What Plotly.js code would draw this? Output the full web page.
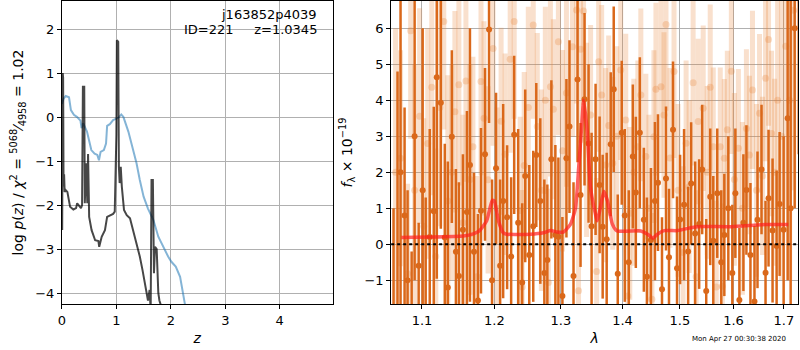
<!DOCTYPE html>
<html>
<head>
<meta charset="utf-8">
<script src="https://cdn.plot.ly/plotly-3.0.1.min.js"></script>
<style>html,body{margin:0;padding:0;background:#fff;}#chart{width:800px;height:350px;}</style>
</head>
<body>
<div id="chart"></div>
<script>
// ---- left panel: redshift probability ----
const blueZ = [0.0,0.03,0.07,0.13,0.165,0.22,0.28,0.34,0.36,0.39,0.46,0.54,0.6,0.65,0.68,0.71,0.77,0.81,0.83,0.88,0.94,0.99,1.04,1.09,1.13,1.22,1.31,1.37,1.43,1.5,1.58,1.68,1.77,1.86,1.95,2.01,2.09,2.17,2.26,2.35];
const blueLogP = [0.3,0.42,0.48,0.45,0.16,0.05,0.0,-0.08,-0.25,-0.14,-0.33,-0.75,-0.83,-0.86,-0.98,-0.79,-0.75,-0.6,-0.2,-0.16,-0.07,-0.03,-0.01,0.06,0.0,-0.33,-0.75,-1.05,-1.43,-1.81,-2.08,-2.34,-2.72,-2.95,-3.17,-3.29,-3.4,-3.63,-4.23,-4.9];

const blackZ = [0.005,0.015,0.022,0.03,0.04,0.05,0.07,0.1,0.15,0.21,0.26,0.28,0.32,0.35,0.37,0.385,0.41,0.42,0.446,0.466,0.48,0.5,0.545,0.61,0.67,0.685,0.73,0.79,0.83,0.88,0.94,0.97,1.0,1.009,1.034,1.046,1.06,1.08,1.1,1.14,1.19,1.25,1.31,1.37,1.43,1.48,1.52,1.55,1.58,1.61,1.63,1.645,1.67,1.69,1.71,1.74,1.75,1.77,1.79,1.81,1.85];
const blackLogP = [-2.57,1.0,0.9,-1.58,-1.3,-1.7,-1.66,-1.7,-2.04,-2.1,-2.07,-1.96,-2.04,-2.07,-2.0,0.69,0.69,-1.96,-1.05,-1.96,-0.84,-2.27,-2.57,-2.8,-2.82,-2.95,-2.72,-2.57,-2.27,-2.23,-2.2,-2.15,-0.4,1.75,1.71,-1.13,-1.5,-1.13,-1.58,-2.11,-2.23,-2.3,-2.57,-2.87,-3.17,-3.48,-3.78,-4.0,-4.17,-3.93,-4.4,-1.43,-1.43,-3.55,-2.95,-3.0,-3.55,-4.0,-4.17,-4.25,-4.6];

// ---- right panel: spectrum ----
const darkWave = [1.0630,1.0681,1.0720,1.0772,1.0811,1.0864,1.0903,1.0956,1.1009,1.1049,1.1103,1.1157,1.1197,1.1252,1.1306,1.1347,1.1402,1.1458,1.1499,1.1555,1.1611,1.1653,1.1710,1.1766,1.1809,1.1866,1.1924,1.1967,1.2025,1.2084,1.2128,1.2186,1.2245,1.2290,1.2349,1.2409,1.2454,1.2515,1.2575,1.2621,1.2682,1.2744,1.2790,1.2852,1.2914,1.2961,1.3024,1.3087,1.3135,1.3199,1.3263,1.3311,1.3375,1.3440,1.3489,1.3554,1.3620,1.3670,1.3736,1.3803,1.3853,1.3920,1.3987,1.4038,1.4106,1.4175,1.4226,1.4295,1.4364,1.4417,1.4487,1.4557,1.4610,1.4681,1.4752,1.4805,1.4877,1.4949,1.5004,1.5076,1.5150,1.5205,1.5278,1.5352,1.5408,1.5483,1.5558,1.5615,1.5690,1.5766,1.5824,1.5900,1.5977,1.6035,1.6113,1.6191,1.6250,1.6329,1.6408,1.6468,1.6548,1.6628,1.6688,1.6769,1.6851,1.6912,1.6994,1.7076,1.7138,1.7221,1.7305];
const darkFlux = [-2.0,-2.5,2.0,0.8,-1.0,-1.9,3.0,-0.6,1.5,-2.5,0.2,0.92,4.64,3.93,0.19,-1.2,2.99,-0.21,-0.88,0.4,0.9,2.2,-0.21,-1.56,0.93,2.5,5.97,-1.0,2.11,-0.6,1.2,0.75,-0.34,3.04,0.6,-1.06,1.9,-0.3,0.5,2.48,1.2,-0.8,-0.44,2.36,0.26,0.21,-1.44,2.39,3.27,-0.88,4.58,1.37,4.03,2.8,0.5,2.36,1.65,0.49,0.14,2.78,4.31,-0.82,3.1,0.8,-0.5,2.44,1.44,3.1,0.68,-0.9,0.12,1.2,1.71,-1.25,1.83,-0.36,3.18,-0.67,0.69,1.1,-0.2,1.69,0.3,0.56,2.08,-1.3,1.32,0.1,1.42,-0.5,0.26,1.0,-0.8,1.42,-1.55,0.6,1.51,-0.3,-1.59,0.68,2.08,-0.79,1.28,0.38,-0.05,1.12,0.4,3.5,1.0,6.0,8.0];
const darkErr = [3.0,7.3,5.0,3.0,2.5,1.7,4.0,1.2,4.5,3.8,3.0,2.9,5.6,3.5,2.6,3.5,2.4,2.3,2.6,2.1,2.8,3.8,2.2,2.4,2.3,2.4,2.6,2.8,2.1,2.4,2.7,2.0,2.2,2.2,2.6,2.2,2.4,2.5,2.1,2.0,2.3,2.6,2.1,2.2,2.5,2.2,2.2,2.2,2.4,2.6,2.3,2.0,2.4,2.2,2.6,2.1,1.9,2.0,2.4,2.0,2.3,2.2,2.0,2.4,2.0,2.0,2.1,2.1,2.0,2.2,2.0,2.2,1.9,2.0,2.0,1.9,1.9,2.0,1.8,2.1,1.8,1.7,2.0,1.8,1.8,2.0,1.9,1.8,1.8,2.0,1.7,2.0,1.9,1.8,2.0,1.9,1.8,2.0,2.1,1.9,1.8,2.0,1.9,2.0,2.1,2.0,2.6,4.5,6.0,5.0,5.5];

const lightWave = [1.0656,1.0720,1.0811,1.0851,1.0903,1.0969,1.1023,1.1076,1.1130,1.1184,1.1238,1.1292,1.1347,1.1402,1.1444,1.1499,1.1555,1.1597,1.1653,1.1695,1.1752,1.1809,1.1852,1.1910,1.1982,1.2040,1.2098,1.2157,1.2231,1.2290,1.2379,1.2409,1.2439,1.2500,1.2575,1.2636,1.2698,1.2759,1.2806,1.2837,1.2883,1.2961,1.3024,1.3087,1.3183,1.3247,1.3279,1.3311,1.3359,1.3408,1.3473,1.3571,1.3604,1.3653,1.3719,1.3769,1.3836,1.3903,1.3970,1.4055,1.4089,1.4123,1.4192,1.4261,1.4312,1.4399,1.4452,1.4504,1.4539,1.4574,1.4663,1.4716,1.4752,1.4823,1.4895,1.4967,1.5058,1.5113,1.5168,1.5241,1.5297,1.5334,1.5427,1.5502,1.5558,1.5615,1.5671,1.5747,1.5785,1.5824,1.5881,1.5958,1.6016,1.6094,1.6172,1.6250,1.6309,1.6369,1.6448,1.6508,1.6568,1.6628,1.6688,1.6749,1.6810,1.6871,1.6953,1.7035,1.7117,1.7200];
const lightFlux = [2.0,2.39,-0.82,5.93,1.5,3.56,0.5,2.8,4.36,-0.34,3.8,6.19,1.2,2.0,3.68,4.43,0.6,4.54,1.8,2.71,-0.9,4.52,3.5,1.79,5.44,1.0,3.42,2.5,5.14,6.19,0.94,-1.19,2.19,3.8,6.09,3.27,1.5,4.0,-1.06,4.38,3.75,5.63,2.6,4.2,5.49,6.51,-1.29,5.42,6.48,2.9,3.59,-0.76,5.07,4.15,2.2,3.3,2.25,3.0,4.84,3.45,-1.44,0.86,2.0,2.71,4.15,2.44,1.0,-1.53,2.99,4.31,4.38,3.59,6.11,2.4,4.8,1.5,-0.23,2.81,1.6,4.49,-0.9,3.41,3.78,2.0,4.36,2.71,-1.19,2.71,-1.17,2.39,3.18,4.81,1.8,2.67,1.0,3.22,2.48,4.29,1.5,3.64,1.9,4.61,5.69,3.08,2.0,4.0,3.0,5.5,4.0,6.5];
const lightErr = [4.0,3.0,2.5,3.0,3.5,3.0,3.0,3.2,3.0,3.0,3.3,3.0,3.5,3.0,2.8,2.8,3.0,2.8,3.2,2.5,2.8,2.6,2.7,2.6,2.7,2.8,2.6,2.8,2.6,2.7,2.6,2.7,2.6,2.8,2.6,2.6,2.8,2.6,2.6,2.5,2.5,2.6,2.8,2.6,2.5,2.6,2.7,2.6,2.6,2.7,2.5,2.6,2.5,2.5,2.7,2.5,2.4,2.5,2.5,2.4,2.5,2.4,2.6,2.4,2.4,2.3,2.6,2.4,2.4,2.4,2.4,2.3,2.4,2.5,2.4,2.4,2.4,2.3,2.4,2.3,2.4,2.3,2.3,2.4,2.3,2.2,2.4,2.2,2.3,2.2,2.2,2.3,2.4,2.2,2.4,2.2,2.2,2.2,2.4,2.2,2.2,2.3,2.4,2.3,2.6,3.0,4.0,4.5,5.0,5.0];

const modelWave = [1.073,1.110,1.156,1.170,1.179,1.189,1.197,1.200,1.206,1.213,1.218,1.253,1.273,1.284,1.294,1.304,1.315,1.323,1.328,1.333,1.336,1.342,1.347,1.355,1.358,1.363,1.369,1.375,1.383,1.391,1.431,1.443,1.452,1.460,1.472,1.496,1.520,1.533,1.596,1.662,1.709];
const modelFlux = [0.19,0.2,0.23,0.29,0.38,0.65,1.22,1.2,0.65,0.32,0.28,0.28,0.32,0.38,0.34,0.34,0.55,1.0,2.1,3.3,4.0,3.1,1.6,0.85,0.65,1.0,1.47,1.2,0.56,0.37,0.37,0.28,0.17,0.28,0.38,0.38,0.46,0.49,0.49,0.55,0.55];

const waveTicks = [1.1,1.2,1.3,1.4,1.5,1.6,1.7];
const waveTickText = ['1.1','1.2','1.3','1.4','1.5','1.6','1.7'];

const FONT = 'DejaVu Sans, sans-serif';
const orange = 'rgb(218,104,26)';

const traces = [
  {x: blueZ, y: blueLogP, xaxis:'x', yaxis:'y', mode:'lines', line:{color:'rgba(31,119,180,0.55)', width:2}, hoverinfo:'skip'},
  {x: blackZ, y: blackLogP, xaxis:'x', yaxis:'y', mode:'lines', line:{color:'rgba(0,0,0,0.72)', width:2}, hoverinfo:'skip'},
  {x: lightWave, y: lightFlux, xaxis:'x2', yaxis:'y2', mode:'markers',
   marker:{color:'rgba(232,125,45,0.25)', size:7},
   error_y:{type:'data', array:lightErr, visible:true, color:'rgba(232,130,55,0.25)', thickness:5, width:0}, hoverinfo:'skip'},
  {x: darkWave, y: darkFlux, xaxis:'x2', yaxis:'y2', mode:'markers',
   marker:{color:orange, size:6},
   error_y:{type:'data', array:darkErr, visible:true, color:orange, thickness:2.5, width:0}, hoverinfo:'skip'},
  {x: modelWave, y: modelFlux, xaxis:'x2', yaxis:'y2', mode:'lines', line:{color:'rgba(255,30,30,0.7)', width:3.5, shape:'spline', smoothing:0.5}, hoverinfo:'skip'}
];

const axBase = {
  showline:true, mirror:true, linecolor:'black', linewidth:1,
  ticks:'outside', ticklen:4, tickcolor:'black', tickwidth:1,
  showgrid:true, gridcolor:'#b0b0b0', gridwidth:1, zeroline:false,
  tickfont:{family:FONT, size:13, color:'black'}, automargin:false
};

const layout = {
  width:800, height:350,
  margin:{l:0, r:1, t:1, b:46},
  paper_bgcolor:'white', plot_bgcolor:'white',
  showlegend:false,
  font:{family:FONT, size:13, color:'black'},
  xaxis: Object.assign({}, axBase, {domain:[0.0775,0.41625], range:[0,4.97], tickvals:[0,1,2,3,4],
    title:{text:'<i>z</i>', font:{family:FONT,size:14}, standoff:6}}),
  yaxis: Object.assign({}, axBase, {domain:[0,1], range:[-4.25,2.64], tickvals:[-4,-3,-2,-1,0,1,2],
    ticktext:['\u22124','\u22123','\u22122','\u22121','0','1','2'],
    title:{text:'log <i>p</i>(<i>z</i>) / <i>\u03c7</i><sup>2</sup> = <sup>5068</sup>\u2044<sub>4958</sub> = 1.02', font:{family:FONT,size:14}, standoff:8}}),
  xaxis2: Object.assign({}, axBase, {domain:[0.4896,0.99875], type:'log', range:[Math.log10(1.06),Math.log10(1.729)],
    tickvals:waveTicks, ticktext:waveTickText, anchor:'y2',
    title:{text:'<i>\u03bb</i>', font:{family:FONT,size:14}, standoff:6}}),
  yaxis2: Object.assign({}, axBase, {domain:[0,1], range:[-1.66,6.76], tickvals:[-1,0,1,2,3,4,5,6],
    ticktext:['\u22121','0','1','2','3','4','5','6'], anchor:'x2',
    title:{text:'<i>f</i><sub>\u03bb</sub> \u00d7 10<sup>\u221219</sup>', font:{family:FONT,size:14}, standoff:8}}),
  shapes:[
    {type:'line', xref:'x2 domain', yref:'y2', x0:0, x1:1, y0:0, y1:0, line:{color:'black', width:2, dash:'dot'}}
  ],
  annotations:[
    {xref:'paper', yref:'paper', x:0.399, y:0.955, xanchor:'right', yanchor:'middle', showarrow:false,
     text:'j163852p4039', font:{family:FONT, size:13, color:'black'}},
    {xref:'paper', yref:'paper', x:0.399, y:0.905, xanchor:'right', yanchor:'middle', showarrow:false,
     text:'ID=221&nbsp;&nbsp;&nbsp;&nbsp;&nbsp;z=1.0345', font:{family:FONT, size:13, color:'black'}},
    {xref:'paper', yref:'paper', x:0.925, y:-0.115, xanchor:'center', yanchor:'middle', showarrow:false,
     text:'Mon Apr 27 00:30:38 2020', font:{family:FONT, size:7, color:'black'}}
  ]
};

Plotly.newPlot('chart', traces, layout, {staticPlot:true, displayModeBar:false});
</script>
</body>
</html>
